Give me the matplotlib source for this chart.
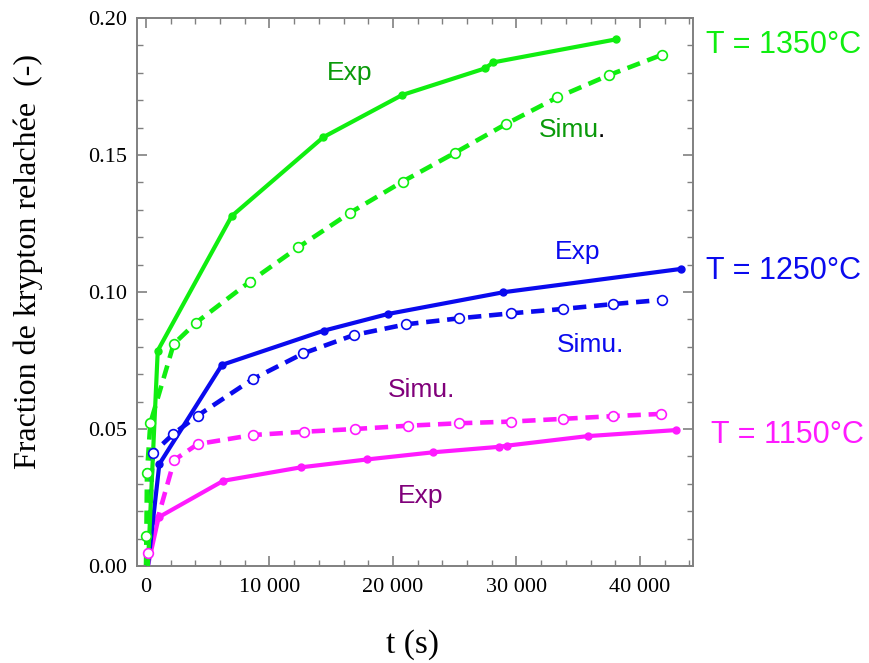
import matplotlib
matplotlib.use("Agg")
import matplotlib.pyplot as plt
from matplotlib.ticker import MultipleLocator, FuncFormatter

### data (t in s, fraction released)
t_exp_1350 = [150, 950, 6940, 14360, 20750, 27450, 28120, 38060]
f_exp_1350 = [0.0, 0.0786, 0.1277, 0.1565, 0.1719, 0.1816, 0.1838, 0.1922]
t_sim_1350 = [0, 30, 80, 350, 2240, 4050, 8420, 12330, 16520, 20780, 25020, 29150, 33300, 37520, 41750]
f_sim_1350 = [0.0, 0.0109, 0.0338, 0.0521, 0.0810, 0.0888, 0.1038, 0.1163, 0.1289, 0.1403, 0.1508, 0.1613, 0.1710, 0.1792, 0.1865]

t_exp_1250 = [150, 1080, 6150, 14410, 19620, 28930, 43290]
f_exp_1250 = [0.0, 0.0372, 0.0734, 0.0859, 0.0920, 0.0999, 0.1084]
t_sim_1250 = [150, 540, 2210, 4190, 8640, 12740, 16840, 21050, 25370, 29530, 33740, 37840, 41750]
f_sim_1250 = [0.0, 0.0411, 0.0482, 0.0549, 0.0682, 0.0776, 0.0843, 0.0882, 0.0904, 0.0922, 0.0938, 0.0956, 0.0971]

t_exp_1150 = [150, 1030, 6260, 12530, 17920, 23260, 28610, 29200, 35760, 42910]
f_exp_1150 = [0.0, 0.0178, 0.0311, 0.0360, 0.0389, 0.0415, 0.0435, 0.0439, 0.0474, 0.0496]
t_sim_1150 = [0, 140, 2290, 4190, 8640, 12820, 16920, 21240, 25370, 29530, 33740, 37840, 41680]
f_sim_1150 = [0.0, 0.0046, 0.0387, 0.0445, 0.0478, 0.0490, 0.0500, 0.0512, 0.0521, 0.0527, 0.0537, 0.0547, 0.0555]

green = '#10ee10'
blue = '#0a0aee'
pink = '#ff1aff'

W, H = 869, 663
fig = plt.figure(figsize=(W / 100.0, H / 100.0), dpi=100)
ax = fig.add_axes([137.0 / W, 1 - 566.0 / H, 556.0 / W, 548.0 / H])

def exp_curve(t, f, col):
    ax.plot(t, f, '-', color=col, lw=3.0, marker='o', ms=5,
            markevery=slice(1, None), mfc=col, mec=col, zorder=3)

def sim_curve(t, f, col):
    ax.plot(t, f, '--', color=col, lw=3.3, dashes=(2.9, 1.7), zorder=2)
    ax.plot(t[1:], f[1:], 'o', ms=7, mfc='white', mec=col, mew=1.2, zorder=4)

sim_curve(t_sim_1150, f_sim_1150, pink)
exp_curve(t_exp_1150, f_exp_1150, pink)
sim_curve(t_sim_1250, f_sim_1250, blue)
exp_curve(t_exp_1250, f_exp_1250, blue)
sim_curve(t_sim_1350, f_sim_1350, green)
exp_curve(t_exp_1350, f_exp_1350, green)

ax.set_xlim(-730, 44300)
ax.set_ylim(0, 0.20)
ax.xaxis.set_major_locator(MultipleLocator(10000))
ax.xaxis.set_minor_locator(MultipleLocator(2000))
ax.yaxis.set_major_locator(MultipleLocator(0.05))
ax.yaxis.set_minor_locator(MultipleLocator(0.01))
ax.xaxis.set_major_formatter(FuncFormatter(lambda v, p: '0' if v == 0 else '{:,.0f}'.format(v).replace(',', ' ')))
ax.yaxis.set_major_formatter(FuncFormatter(lambda v, p: '%.2f' % v))

for s in ax.spines.values():
    s.set_color('#808080')
    s.set_linewidth(1.4)
ax.tick_params(which='both', direction='in', top=True, right=True, color='#808080')
ax.tick_params(which='major', length=7, width=1.2, labelsize=16)
ax.tick_params(axis='x', which='major', pad=9)
ax.tick_params(axis='y', which='major', pad=7)
ax.tick_params(which='minor', length=4, width=1.0)
for lab in ax.get_xticklabels() + ax.get_yticklabels():
    lab.set_family('Liberation Serif')

### axis titles
fig.text(28.0 / W, 1 - 262.0 / H, 'Fraction de krypton relachée  (-)', rotation=90,
         ha='center', va='center', family='Liberation Serif', fontsize=23)
fig.text(413.0 / W, 1 - 645.0 / H, 't (s)', ha='center', va='center',
         family='Liberation Serif', fontsize=24)

### curve labels (pixel positions -> figure fraction)
def lab(x, y, s, col, size=19):
    fig.text(x / W, 1 - y / H, s, color=col, fontsize=size,
             family='Liberation Sans', ha='left', va='baseline')

lab(327, 80, 'Exp', '#0a9a0a')
lab(539, 137, 'Simu', '#0a9a0a')
lab(598, 137, '.', 'black')
lab(555, 259, 'Exp', blue)
lab(557, 352, 'Simu.', blue)
lab(388, 397, 'Simu.', '#80007a')
lab(398, 503, 'Exp', '#80007a')

lab(706, 53, 'T = 1350°C', green, 22)
lab(706, 279, 'T = 1250°C', blue, 22)
lab(711, 443, 'T = 1150°C', pink, 22)

fig.savefig('out.png', dpi=100)
